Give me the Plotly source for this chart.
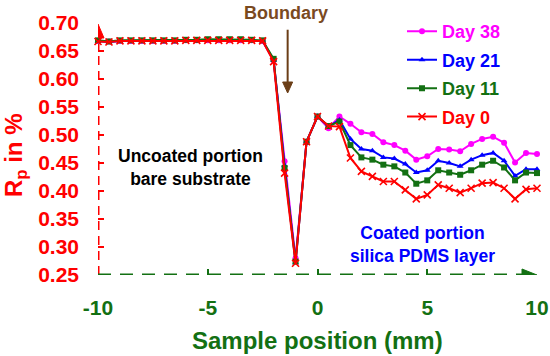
import plotly.graph_objects as go

# ---------------- data ----------------
positions = [-10, -9.5, -9, -8.5, -8, -7.5, -7, -6.5, -6, -5.5, -5, -4.5, -4, -3.5, -3, -2.5,
             -2, -1.5, -1, -0.5, 0, 0.5, 1,
             1.5, 2, 2.5, 3, 3.5, 4, 4.5, 5, 5.5, 6, 6.5, 7, 7.5, 8, 8.5, 9, 9.5, 10]

day38 = [0.668, 0.667, 0.668, 0.668, 0.668, 0.668, 0.668, 0.668, 0.669, 0.669, 0.669, 0.669, 0.669, 0.669, 0.669, 0.668,
         0.633, 0.453, 0.280, 0.488, 0.533, 0.512, 0.533,
         0.520, 0.505, 0.502, 0.487, 0.482, 0.472, 0.456, 0.462, 0.475, 0.474, 0.471, 0.484, 0.493, 0.497, 0.486, 0.451, 0.468, 0.466]
day21 = [0.668, 0.666, 0.668, 0.668, 0.668, 0.668, 0.668, 0.668, 0.669, 0.669, 0.669, 0.669, 0.669, 0.669, 0.669, 0.668,
         0.634, 0.446, 0.272, 0.488, 0.533, 0.515, 0.527,
         0.493, 0.475, 0.472, 0.460, 0.458, 0.448, 0.433, 0.437, 0.454, 0.450, 0.444, 0.456, 0.464, 0.468, 0.454, 0.427, 0.439, 0.439]
day11 = [0.669, 0.667, 0.669, 0.669, 0.669, 0.669, 0.669, 0.669, 0.670, 0.670, 0.671, 0.671, 0.671, 0.671, 0.670, 0.669,
         0.636, 0.441, 0.274, 0.488, 0.533, 0.516, 0.524,
         0.482, 0.460, 0.456, 0.447, 0.444, 0.433, 0.413, 0.419, 0.437, 0.433, 0.429, 0.437, 0.447, 0.454, 0.442, 0.419, 0.433, 0.432]
day0 = [0.667, 0.666, 0.668, 0.668, 0.668, 0.668, 0.668, 0.668, 0.669, 0.669, 0.669, 0.669, 0.669, 0.669, 0.669, 0.668,
        0.631, 0.432, 0.271, 0.488, 0.533, 0.516, 0.515,
        0.459, 0.435, 0.426, 0.417, 0.417, 0.402, 0.386, 0.393, 0.411, 0.405, 0.397, 0.405, 0.414, 0.415, 0.405, 0.386, 0.403, 0.405]

series_names = ["Day 38", "Day 21", "Day 11", "Day 0"]
series_values = [day38, day21, day11, day0]
series_colors = ["#FF00FF", "#0000FF", "#137013", "#FF0000"]
series_symbols = ["circle", "triangle-up", "square", "x-thin"]

x_ticks = [-10, -5, 0, 5, 10]
x_tick_labels = ["-10", "-5", "0", "5", "10"]
y_ticks = [0.25, 0.30, 0.35, 0.40, 0.45, 0.50, 0.55, 0.60, 0.65, 0.70]
y_tick_labels = ["0.25", "0.30", "0.35", "0.40", "0.45", "0.50", "0.55", "0.60", "0.65", "0.70"]

RED = "#FF0000"
GREEN = "#137013"
BROWN = "#6B3E17"
FONT = "Liberation Sans"

fig = go.Figure()
for name, vals, col, sym in zip(series_names, series_values, series_colors, series_symbols):
    marker = dict(symbol=sym, size=6, color=col)
    if sym == "x-thin":
        marker = dict(symbol=sym, size=7, color=col, line=dict(color=col, width=1.6))
    fig.add_trace(go.Scatter(
        x=positions, y=vals, mode="lines+markers",
        name=f"<span style='color:{col}'>{name}</span>",
        legendgroup=name,
        line=dict(color=col, width=2),
        marker=marker,
        cliponaxis=False,
    ))

shapes = [
    # dashed y axis (red)
    dict(type="line", xref="x", yref="y", x0=-10, x1=-10, y0=0.25, y1=0.676,
         line=dict(color=RED, width=3, dash="9px,6px"), layer="below"),
    # dashed x axis (green)
    dict(type="line", xref="x", yref="y", x0=-10, x1=9.35, y0=0.25, y1=0.25,
         line=dict(color=GREEN, width=3, dash="13px,9px"), layer="below"),
    # arrow heads
    dict(type="path", xref="x", yref="y", xsizemode="pixel", ysizemode="pixel",
         xanchor=-10, yanchor=0.70, path="M -6,-15 L 6,-15 L 0,-1 Z",
         fillcolor=RED, line=dict(color=RED, width=1)),
    dict(type="path", xref="x", yref="y", xsizemode="pixel", ysizemode="pixel",
         xanchor=10, yanchor=0.25, path="M -15,-6 L -15,6 L 0,0 Z",
         fillcolor=GREEN, line=dict(color=GREEN, width=1)),
    # boundary arrow
    dict(type="line", xref="x", yref="y", x0=-1.36, x1=-1.36, y0=0.592, y1=0.688,
         line=dict(color=BROWN, width=2)),
    dict(type="path", xref="x", yref="y", xsizemode="pixel", ysizemode="pixel",
         xanchor=-1.36, yanchor=0.575, path="M -5,11 L 5,11 L 0,0 Z",
         fillcolor=BROWN, line=dict(color=BROWN, width=1)),
]

annotations = [
    dict(text="Boundary", x=-1.45, y=1.041, xref="x", yref="paper", showarrow=False,
         xanchor="center", yanchor="middle",
         font=dict(family=FONT, size=18, color="#7A4A1F", weight="bold")),
    dict(text="Uncoated portion<br>bare substrate", x=-5.77, y=0.442, xref="x", yref="y",
         showarrow=False, font=dict(family=FONT, size=17.5, color="#000000", weight="bold")),
    dict(text="Coated portion<br>silica PDMS layer", x=4.77, y=0.304, xref="x", yref="y",
         showarrow=False, font=dict(family=FONT, size=17.5, color="#0000FF", weight="bold")),
    dict(text="R<sub>p</sub> in %", x=-0.189, y=0.476, xref="paper", yref="paper",
         textangle=-90, showarrow=False, xanchor="center", yanchor="middle",
         font=dict(family=FONT, size=24, color=RED, weight="bold")),
    dict(text="Sample position (mm)", x=0.4989, y=-0.258, xref="paper", yref="paper",
         showarrow=False, xanchor="center", yanchor="middle",
         font=dict(family=FONT, size=24, color=GREEN, weight="bold")),
]

fig.update_layout(
    template="none",
    width=550, height=356,
    margin=dict(l=98, r=13, t=23, b=81, autoexpand=False),
    paper_bgcolor="white", plot_bgcolor="white",
    shapes=shapes, annotations=annotations,
    hovermode=False,
    legend=dict(x=0.6925, y=1.039, xanchor="left", yanchor="top",
                bgcolor="rgba(0,0,0,0)", tracegroupgap=2,
                font=dict(family=FONT, size=18, weight="bold")),
    xaxis=dict(range=[-10, 10], tickvals=x_ticks, ticktext=x_tick_labels,
               showgrid=False, zeroline=False, showline=False, automargin=False,
               ticks="inside", ticklen=6, tickwidth=2, tickcolor=GREEN,
               ticklabelstandoff=18,
               tickfont=dict(family=FONT, size=21, color=GREEN, weight="bold")),
    yaxis=dict(range=[0.25, 0.70], tickvals=y_ticks, ticktext=y_tick_labels,
               showgrid=False, zeroline=False, showline=False, automargin=False,
               ticks="inside", ticklen=6, tickwidth=2, tickcolor=RED,
               ticklabelstandoff=18,
               tickfont=dict(family=FONT, size=21, color=RED, weight="bold")),
)

# remove the default 8px page margin so the 550x356 figure fills the window exactly
fig.write_html("out.html", config={"displayModeBar": False},
               post_script="document.body.style.margin='0px';")
